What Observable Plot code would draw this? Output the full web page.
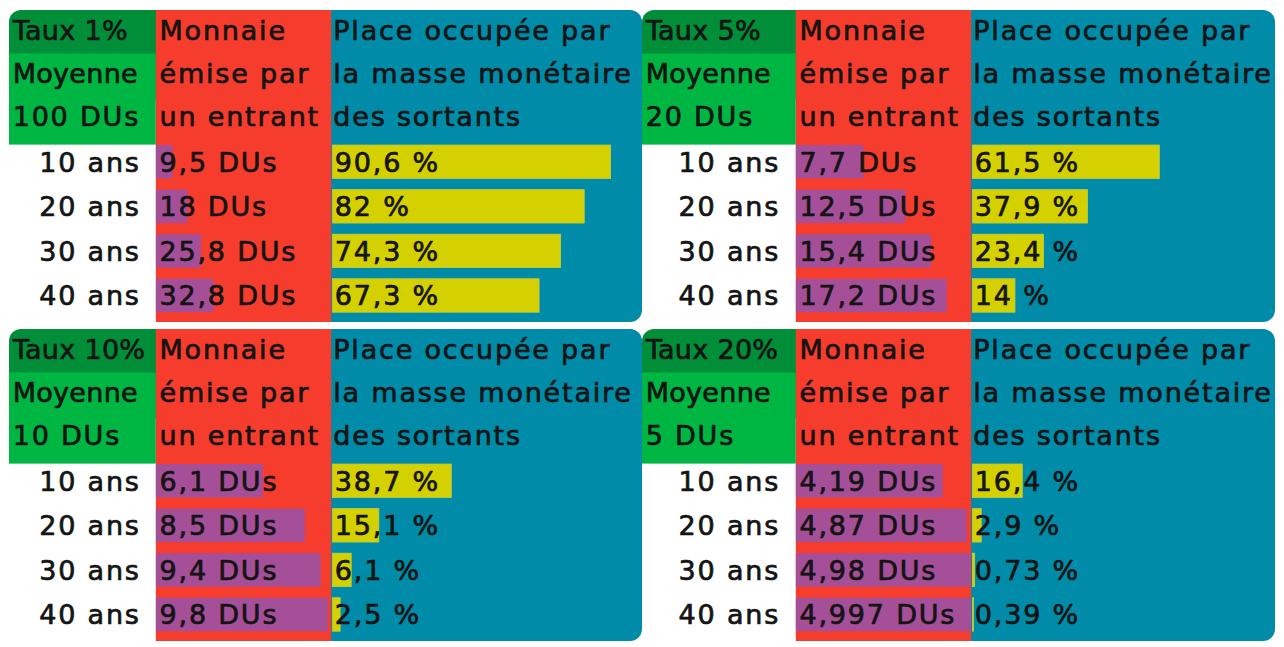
<!DOCTYPE html>
<html>
<head>
<meta charset="utf-8">
<script src="https://cdn.jsdelivr.net/npm/d3@7"></script>
<script src="https://cdn.jsdelivr.net/npm/@observablehq/plot@0.6"></script>
<style>
  html, body { margin: 0; padding: 0; background: #ffffff; }
  #chart svg { display: block; }
</style>
</head>
<body>
<div id="chart"></div>
<script>
// ---------- data ----------
const taux = ["Taux 1%", "Taux 5%", "Taux 10%", "Taux 20%"];
const moyennes = [100, 20, 10, 5];
const durees = ["10 ans", "20 ans", "30 ans", "40 ans"];
// Monnaie émise par un entrant (DUs), per taux, per durée
const monnaieEmise = [
  [9.5, 18, 25.8, 32.8],
  [7.7, 12.5, 15.4, 17.2],
  [6.1, 8.5, 9.4, 9.8],
  [4.19, 4.87, 4.98, 4.997]
];
// Place occupée par la masse monétaire des sortants (%)
const placeSortants = [
  [90.6, 82, 74.3, 67.3],
  [61.5, 37.9, 23.4, 14],
  [38.7, 15.1, 6.1, 2.5],
  [16.4, 2.9, 0.73, 0.39]
];
const headerMoyenne = "Moyenne";
const headerMonnaie = ["Monnaie", "émise par", "un entrant"];
const headerPlace = ["Place occupée par", "la masse monétaire", "des sortants"];

// ---------- layout (panel fractions) ----------
const LAYOUT = [
  {c1: 0.232, c2: 0.509, w: 0.485, rowX: 0.047},
  {c1: 0.243, c2: 0.520, w: 0.480, rowX: 0.057}
];
const PAD = 0.005;
const COLORS = {
  darkGreen: "#008f38", green: "#00b642", red: "#f63c2c", blue: "#008ba8",
  purple: "#a54f99", yellow: "#d5d000", yellowEdge: "#c4cf3c", ink: "#141414"
};
const FS = 27;
const fr = v => String(v).replace(".", ",");

const panels = taux.map((t, i) => ({
  i, taux: t, moyenne: moyennes[i], fx: i % 2, fy: Math.floor(i / 2), L: LAYOUT[i % 2]
}));

const rows = panels.flatMap(p => durees.map((d, j) => ({
  ...p, j, duree: d, monnaie: monnaieEmise[p.i][j], place: placeSortants[p.i][j]
})));

const headerTexts = panels.flatMap(p => [
  {...p, x: PAD, line: 0, text: p.taux, tight: true},
  {...p, x: PAD, line: 1, text: headerMoyenne, tight: true},
  {...p, x: PAD, line: 2, text: `${p.moyenne} DUs`},
  ...headerMonnaie.map((t, k) => ({...p, x: p.L.c1 + PAD, line: k, text: t})),
  ...headerPlace.map((t, k) => ({...p, x: p.L.c2 + PAD * 0.5, line: k, text: t}))
]);

const textStyle = {textAnchor: "start", fontSize: FS, fill: COLORS.ink, stroke: COLORS.ink, strokeWidth: 0.7};

const chart = Plot.plot({
  width: 1284,
  height: 647,
  marginLeft: 9,
  marginRight: 9,
  marginTop: 10,
  marginBottom: 6,
  style: {fontFamily: "'DejaVu Sans', sans-serif", letterSpacing: "1.8px", background: "#ffffff", color: COLORS.ink},
  fx: {domain: [0, 1], padding: 0, axis: null},
  fy: {domain: [0, 1], paddingInner: 7 / 319, paddingOuter: 0, axis: null},
  x: {domain: [0, 1], axis: null},
  y: {domain: [0, 7], reverse: true, axis: null},
  marks: [
    // blue column (rounded right corners; left corners hidden under red)
    Plot.rect(panels, {fx: "fx", fy: "fy", x1: d => d.L.c1 + 0.03, x2: 1, y1: 0, y2: 7, fill: COLORS.blue, rx: 12}),
    // dark green header (rounded top-left)
    Plot.rect(panels, {fx: "fx", fy: "fy", x1: 0, x2: d => d.L.c1 + 0.03, y1: 0, y2: 2, fill: COLORS.darkGreen, rx: 12}),
    // green "Moyenne"
    Plot.rect(panels, {fx: "fx", fy: "fy", x1: 0, x2: d => d.L.c1, y1: 0.975, y2: 3.02, fill: COLORS.green}),
    // red column
    Plot.rect(panels, {fx: "fx", fy: "fy", x1: d => d.L.c1, x2: d => d.L.c2, y1: 0, y2: 7, fill: COLORS.red}),
    // purple bars: monnaie / moyenne across the red column
    Plot.rect(rows, {
      fx: "fx", fy: "fy",
      x1: d => d.L.c1,
      x2: d => d.L.c1 + (d.monnaie / d.moyenne) * (d.L.c2 - d.L.c1),
      y1: d => 3 + d.j + 0.03, y2: d => 3 + d.j + 0.78,
      fill: COLORS.purple
    }),
    // yellow bars: percent of the blue column
    Plot.rect(rows, {
      fx: "fx", fy: "fy",
      x1: d => d.L.c2 + 0.002,
      x2: d => d.L.c2 + 0.002 + (d.place / 100) * d.L.w,
      y1: d => 3 + d.j + 0.03, y2: d => 3 + d.j + 0.78,
      fill: COLORS.yellow, stroke: COLORS.yellowEdge, strokeWidth: 0.8
    }),
    // header texts
    Plot.text(headerTexts, {
      fx: "fx", fy: "fy", x: "x", y: d => d.line * 0.97 + 0.46,
      text: "text", ...textStyle
    }),
    // row labels
    Plot.text(rows, {
      fx: "fx", fy: "fy", x: d => d.L.rowX, y: d => 3 + d.j + 0.42,
      text: "duree", ...textStyle
    }),
    // monnaie values
    Plot.text(rows, {
      fx: "fx", fy: "fy", x: d => d.L.c1 + PAD, y: d => 3 + d.j + 0.42,
      text: d => `${fr(d.monnaie)} DUs`, ...textStyle
    }),
    // place values
    Plot.text(rows, {
      fx: "fx", fy: "fy", x: d => d.L.c2 + PAD, y: d => 3 + d.j + 0.42,
      text: d => `${fr(d.place)} %`, ...textStyle
    })
  ]
});

// tighter spacing for the narrow first-column header labels
d3.select(chart).selectAll("text").filter(function () {
  const t = this.textContent;
  return t.startsWith("Taux") || t === headerMoyenne;
}).style("letter-spacing", "0.3px");

document.getElementById("chart").appendChild(chart);
</script>
</body>
</html>
